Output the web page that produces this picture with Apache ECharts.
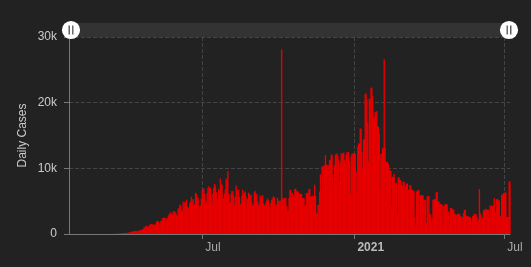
<!DOCTYPE html>
<html>
<head>
<meta charset="utf-8">
<script src="https://cdn.jsdelivr.net/npm/echarts@6/dist/echarts.min.js"></script>
<style>
html,body{margin:0;padding:0;background:#222222;}
#chart{width:531px;height:267px;}
</style>
</head>
<body>
<div id="chart"></div>
<script>
// Daily cases, one value per day starting 2020-01-22
var startDate = [2020, 0, 22];
var endDate = [2021, 6, 8];
var jan2020 = [0,0,0,0,0,0,0,0,0,0];
var feb2020 = [0,0,0,0,0,0,0,0,0,0,0,0,0,0,0,0,0,0,0,0,0,0,0,0,0,0,0,1,3];
var mar2020 = [1,0,0,0,0,1,0,2,0,1,4,4,10,15,12,29,11,25,46,39,52,48,65,49,70,110,132,168,155,160,165];
var apr2020 = [163,178,225,178,253,296,329,396,414,419,465,500,442,341,493,550,494,622,578,764,729,1043,1105,1270,1239,977,1130,1300,1425,1510];
var may2020 = [1515,1439,1425,1383,1434,1609,1982,1906,1938,1562,1305,1997,1998,2409,2432,2563,2437,1808,2414,2248,2713,2973,3160,3329,2960,2999,3455,3463,3377,3227,2885];
var jun2020 = [2771,3891,3912,4442,4346,3593,3500,4902,4199,4883,4790,5222,4147,4000,3800,4599,4930,5662,5030,5343,3866,4577,6288,6104,5437,5546,4410,4050,4317,5432];
var jul2020 = [6741,6740,6914,6094,4683,4902,6258,6995,7280,6891,7047,5500,4685,6149,7051,7615,7257,6406,5311,5172,6859,6019,8438,7573,7494,5480,5435,6148,6799,8458,8100];
var aug2020 = [9556,6148,4767,4853,6139,6590,6495,5858,4376,5558,7371,6686,5618,6751,5627,4448,4600,5792,6686,6090,6220,6482,5631,4500,5319,6288,6168,5824,5974,4800,4210];
var sep2020 = [4444,6359,6563,6045,6114,5000,4300,4592,5856,5335,5723,5937,4695,4300,4408,4771,5115,5393,5174,4200,4200,4683,5167,5408,5729,5573,4528,4210,4460,5532];
var oct2020 = [5053,5000,5120,5000,28115,5400,5170,5480,5400,5500,4310,3450,3600,5500,6740,6700,5630,6240,5700,5700,6850,6900,6500,6500,6450,5980,6130,6130,6100,5500,5500];
var nov2020 = [5500,4460,4400,6240,6200,6250,6850,6800,5700,5700,5830,5800,5850,7500,5780,3140,3200,4400,4450,6440,9100,6650,10300,10250,10450,10400,12000,10600,10500,9800];
var dec2020 = [10500,11250,11300,12100,12000,8700,7450,10500,12100,12000,12250,11900,11250,7960,10800,12300,12250,12200,12400,11300,10800,12100,12470,12400,12450,11000,6200,11800,12270,12150,12300];
var jan2021 = [12300,12200,9500,6440,13300,13800,13700,16100,16000,12500,10000,14400,14500,21300,21400,20500,17000,11100,20600,20500,22300,22200,21000,17500,17850,18600,18500,18700,16400,16300,15300];
var feb2021 = [7200,12170,12200,13100,13000,26600,13180,11000,11000,10900,10650,9730,9700,9600,4160,8720,8700,9130,7800,7800,7700,3140,8620,8600,8210,8200,7450,7400];
var mar2021 = [7960,7900,7200,7250,7700,7650,6690,6700,7450,7400,6800,6750,6600,6550,2540,1370,6490,6490,6740,6700,2180,5900,5950,5900,5850,5220,5200,5100,1670,5800,5750];
var apr2021 = [5800,3090,3000,1670,2400,5220,5250,5300,5300,6390,6350,4970,4950,4610,4600,4460,4450,1670,4310,4300,4560,4550,4500,3450,3400,1670,3950,3950,3900,3700];
var may2021 = [3700,3090,3050,2940,2900,3090,3100,3050,2690,2650,1930,2600,3190,3700,3650,2790,2750,2690,2650,2590,2550,1270,2000,2790,2750,3090,3050,3000,2590,1670,2200];
var jun2021 = [6840,3200,2940,2430,2400,3600,3550,3850,3800,3700,3700,3650,2430,4310,4300,4250,4310,4300,5480,3300,3300,5320,5300,5120,5100,2690,2700,5980,5950,6240];
var jul2021 = [6240,6340,6300,2590,2600,2550,8010,7950];
var xTickDates = [[2020, 6, 1], [2021, 0, 1], [2021, 6, 1]];
var yTicks = [0, 10000, 20000, 30000];
var yName = 'Daily Cases';

var daily = [].concat(jan2020, feb2020, mar2020, apr2020, may2020, jun2020, jul2020, aug2020,
  sep2020, oct2020, nov2020, dec2020, jan2021, feb2021, mar2021, apr2021, may2021, jun2021, jul2021);
var seriesData = daily.map(function (v, i) {
  return [new Date(startDate[0], startDate[1], startDate[2] + i).getTime(), v];
});
var xTickValues = xTickDates.map(function (d) { return new Date(d[0], d[1], d[2]).getTime(); });
var MONTHS = ['Jan','Feb','Mar','Apr','May','Jun','Jul','Aug','Sep','Oct','Nov','Dec'];

var chart = echarts.init(document.getElementById('chart'), null, {renderer: 'canvas'});
var handlePath = 'path://M0,-10A10,10,0,1,1,0,10A10,10,0,1,1,0,-10Z' +
  'M-2.6,-5L-2.6,5L-1.4,5L-1.4,-5Z M1.4,-5L1.4,5L2.6,5L2.6,-5Z';
chart.setOption({
  backgroundColor: '#222222',
  animation: false,
  grid: {left: 69, right: 21, top: 37, bottom: 33},
  dataZoom: [{
    type: 'slider',
    xAxisIndex: 0,
    top: 23,
    height: 14,
    left: 69,
    right: 22,
    start: 0,
    end: 100,
    showDetail: false,
    showDataShadow: false,
    brushSelect: false,
    moveHandleSize: 0,
    backgroundColor: 'rgba(0,0,0,0)',
    borderColor: 'rgba(0,0,0,0)',
    fillerColor: '#333333',
    handleIcon: handlePath,
    handleSize: '130%',
    handleStyle: {color: '#ffffff', borderWidth: 0},
    emphasis: {handleStyle: {color: '#ffffff', borderWidth: 0}}
  }],
  xAxis: {
    type: 'value',
    scale: true,
    min: new Date(startDate[0], startDate[1], startDate[2]).getTime(),
    max: new Date(endDate[0], endDate[1], endDate[2]).getTime(),
    axisLine: {show: true, onZero: false, lineStyle: {color: '#777777'}},
    axisTick: {show: true, length: 5, customValues: xTickValues, lineStyle: {color: '#777777'}},
    axisLabel: {
      color: '#aaaaaa', fontSize: 12, margin: 8,
      align: 'left',
      padding: [0, 0, 0, 3],
      customValues: xTickValues,
      showMinLabel: true, showMaxLabel: true,
      formatter: function (v) {
        var d = new Date(v);
        return d.getMonth() === 0 ? '{y|' + d.getFullYear() + '}' : MONTHS[d.getMonth()];
      },
      rich: {y: {color: '#bbbbbb', fontSize: 12, fontWeight: 'bold'}}
    },
    splitLine: {show: true, lineStyle: {color: '#444444', type: 'dashed'}}
  },
  yAxis: {
    type: 'value',
    min: yTicks[0],
    max: yTicks[yTicks.length - 1],
    interval: yTicks[1] - yTicks[0],
    name: yName,
    nameLocation: 'middle',
    nameGap: 40,
    nameMoveOverlap: false,
    nameTextStyle: {color: '#cccccc', fontSize: 12},
    axisLine: {show: true, lineStyle: {color: '#777777'}},
    axisTick: {show: true, length: 5, lineStyle: {color: '#777777'}},
    axisLabel: {
      color: '#cccccc', fontSize: 12, margin: 12,
      formatter: function (v) { return v === 0 ? '0' : (v / 1000) + 'k'; }
    },
    splitLine: {show: true, lineStyle: {color: '#444444', type: 'dashed'}}
  },
  series: [{
    type: 'bar',
    data: seriesData,
    barWidth: 1.4,
    itemStyle: {color: '#e60000'}
  }]
});
</script>
</body>
</html>
